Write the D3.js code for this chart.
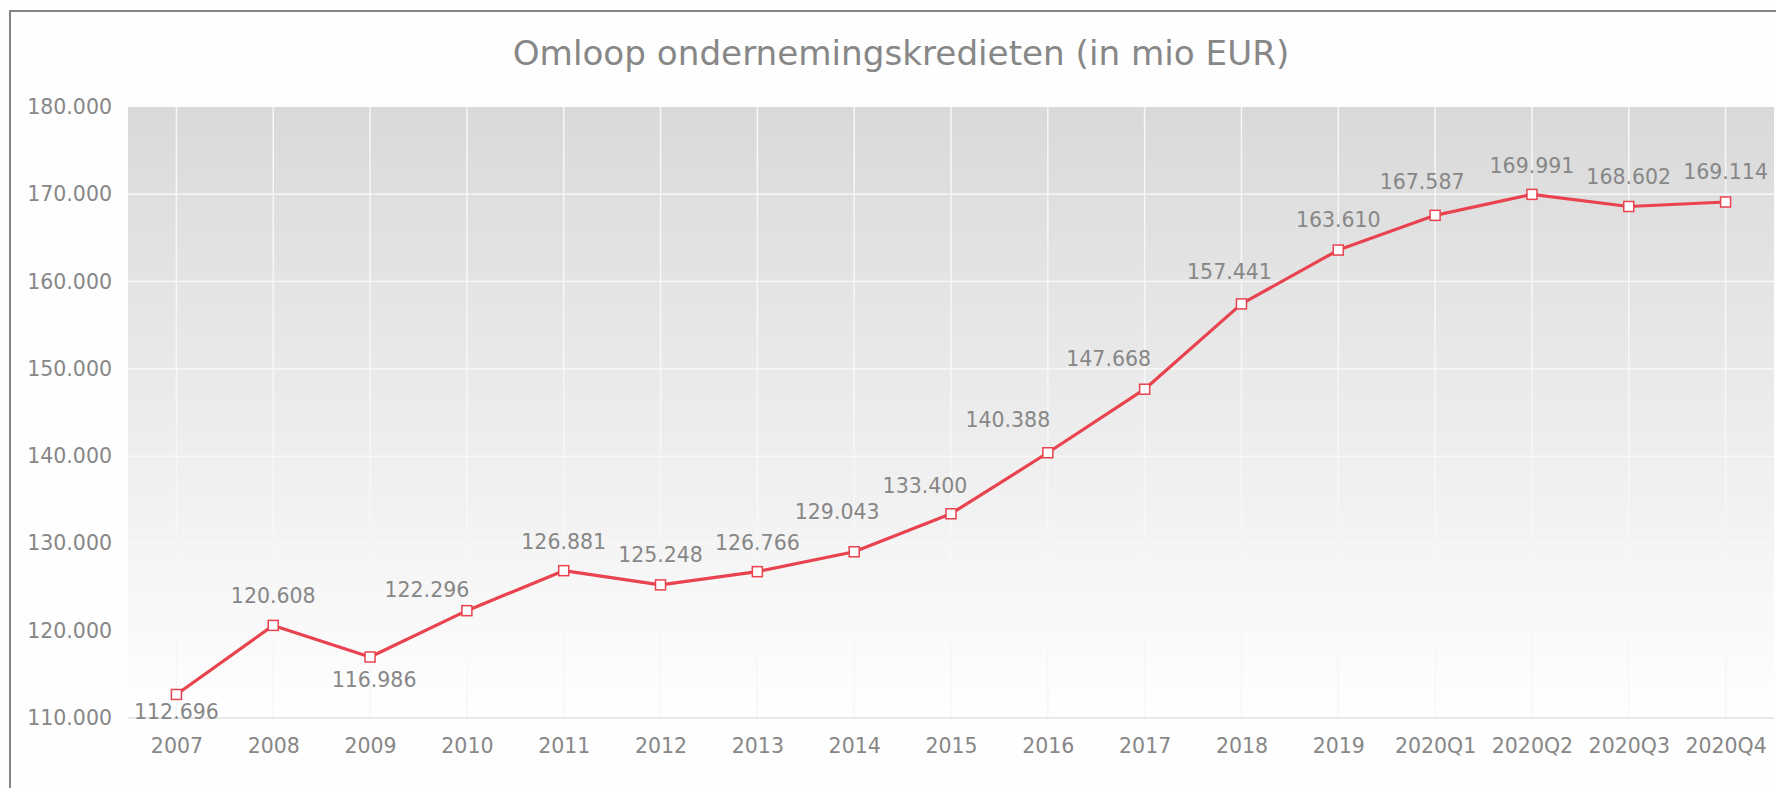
<!DOCTYPE html>
<html>
<head>
<meta charset="utf-8">
<script src="https://cdn.jsdelivr.net/npm/d3@7"></script>
<style>
  html, body { margin: 0; padding: 0; background: #fefefe; overflow: hidden; }
  text { font-family: "DejaVu Sans", sans-serif; fill: #878787; }
</style>
</head>
<body>
<div id="chart"></div>
<script>
var categories = ["2007", "2008", "2009", "2010", "2011", "2012", "2013", "2014", "2015",
                  "2016", "2017", "2018", "2019", "2020Q1", "2020Q2", "2020Q3", "2020Q4"];
var values = [112696, 120608, 116986, 122296, 126881, 125248, 126766, 129043, 133400,
              140388, 147668, 157441, 163610, 167587, 169991, 168602, 169114];
var yTicks = [110000, 120000, 130000, 140000, 150000, 160000, 170000, 180000];
var title = "Omloop ondernemingskredieten (in mio EUR)";

// where each value label sits relative to its marker
var labelDx = [0, 0, 4, -40, 0, 0, 0, -17, -26, -40, -36, -12, 0, -13, 0, 0, 0];
var labelDy = [17, -30, 23, -21, -29, -30, -29, -40, -28, -33, -31, -32, -30, -34, -29, -30, -30];

var W = 1776, H = 788;
var plotL = 128, plotR = 1774, plotT = 107, plotB = 718;
var red = "#e8434f";

var nl = d3.formatLocale({decimal: ",", thousands: ".", grouping: [3], currency: ["€", ""]});
var fmt = nl.format(",d");

var svg = d3.select("#chart").append("svg")
    .attr("width", W)
    .attr("height", H);

// outer frame, right and bottom fall off the picture
svg.append("rect")
    .attr("x", 10).attr("y", 11)
    .attr("width", 1820).attr("height", 820)
    .attr("fill", "#fefefe")
    .attr("stroke", "#858585")
    .attr("stroke-width", 2);

var grad = svg.append("defs").append("linearGradient")
    .attr("id", "bg")
    .attr("x1", 0).attr("y1", 0).attr("x2", 0).attr("y2", 1);
grad.append("stop").attr("offset", "0%").attr("stop-color", "#d9d9d9");
grad.append("stop").attr("offset", "100%").attr("stop-color", "#ffffff");

var x = d3.scalePoint()
    .domain(categories)
    .range([plotL, plotR])
    .padding(0.5);

var y = d3.scaleLinear()
    .domain([110000, 180000])
    .range([plotB, plotT]);

svg.append("rect")
    .attr("x", plotL).attr("y", plotT)
    .attr("width", plotR - plotL).attr("height", plotB - plotT)
    .attr("fill", "url(#bg)");

// grid
svg.append("g").selectAll("line")
    .data(categories)
    .enter().append("line")
    .attr("x1", function (d) { return x(d); })
    .attr("x2", function (d) { return x(d); })
    .attr("y1", plotT).attr("y2", plotB)
    .attr("stroke", "#f7f7f7")
    .attr("stroke-width", 1.5);

svg.append("g").selectAll("line")
    .data(yTicks.slice(1, -1))
    .enter().append("line")
    .attr("x1", plotL).attr("x2", plotR)
    .attr("y1", function (d) { return y(d); })
    .attr("y2", function (d) { return y(d); })
    .attr("stroke", "#f7f7f7")
    .attr("stroke-width", 1.5);

svg.append("line")
    .attr("x1", plotL).attr("x2", plotR)
    .attr("y1", plotB).attr("y2", plotB)
    .attr("stroke", "#e2e2e2")
    .attr("stroke-width", 1.5);

// axes
var yAxis = svg.append("g")
    .attr("transform", "translate(" + plotL + ",0)")
    .call(d3.axisLeft(y).tickValues(yTicks).tickSize(0).tickPadding(16).tickFormat(fmt));
yAxis.select(".domain").remove();

var xAxis = svg.append("g")
    .attr("transform", "translate(0," + plotB + ")")
    .call(d3.axisBottom(x).tickSize(0).tickPadding(20));
xAxis.select(".domain").remove();

svg.selectAll(".tick text")
    .attr("fill", "#878787")
    .style("font-family", "DejaVu Sans, sans-serif")
    .style("font-size", "20.5px");

// title
svg.append("text")
    .attr("x", 901).attr("y", 53)
    .attr("dy", "0.36em")
    .attr("text-anchor", "middle")
    .style("font-size", "34.2px")
    .text(title);

// line + markers
var line = d3.line()
    .x(function (d, i) { return x(categories[i]); })
    .y(function (d) { return y(d); });

svg.append("path")
    .datum(values)
    .attr("d", line)
    .attr("fill", "none")
    .attr("stroke", red)
    .attr("stroke-width", 3.2)
    .attr("stroke-linejoin", "round");

svg.append("g").selectAll("rect")
    .data(values)
    .enter().append("rect")
    .attr("x", function (d, i) { return x(categories[i]) - 5; })
    .attr("y", function (d) { return y(d) - 5; })
    .attr("width", 10).attr("height", 10)
    .attr("fill", "#ffffff")
    .attr("stroke", red)
    .attr("stroke-width", 1.5);

svg.append("g").selectAll("text")
    .data(values)
    .enter().append("text")
    .attr("x", function (d, i) { return x(categories[i]) + labelDx[i]; })
    .attr("y", function (d, i) { return y(d) + labelDy[i]; })
    .attr("dy", "0.36em")
    .attr("text-anchor", "middle")
    .style("font-size", "20.5px")
    .text(function (d) { return fmt(d); });
</script>
</body>
</html>
